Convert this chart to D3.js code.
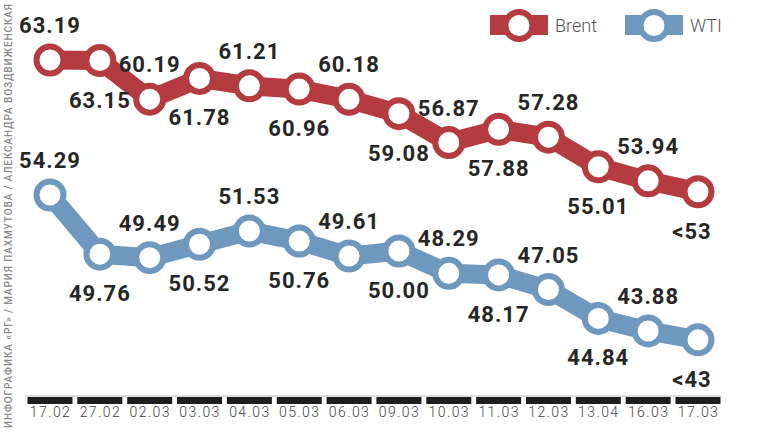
<!DOCTYPE html>
<html>
<head>
<meta charset="utf-8">
<script src="https://cdn.jsdelivr.net/npm/d3@7"></script>
<style>
  html, body { margin: 0; padding: 0; background: #fff; }
  svg { display: block; }
</style>
</head>
<body>
<svg id="chart" width="758" height="437"></svg>
<script>
// ---- data ----
const dates = ["17.02","27.02","02.03","03.03","04.03","05.03","06.03","09.03","10.03","11.03","12.03","13.04","16.03","17.03"];
const brentValues = [63.19, 63.15, 60.19, 61.78, 61.21, 60.96, 60.18, 59.08, 56.87, 57.88, 57.28, 55.01, 53.94, 53.1];
const brentLabels = ["63.19","63.15","60.19","61.78","61.21","60.96","60.18","59.08","56.87","57.88","57.28","55.01","53.94","<53"];
const wtiValues = [54.29, 49.76, 49.49, 50.52, 51.53, 50.76, 49.61, 50.00, 48.29, 48.17, 47.05, 44.84, 43.88, 43.2];
const wtiLabels = ["54.29","49.76","49.49","50.52","51.53","50.76","49.61","50.00","48.29","48.17","47.05","44.84","43.88","<43"];
const seriesNames = ["Brent", "WTI"];
const credit = "ИНФОГРАФИКА «РГ» / МАРИЯ ПАХМУТОВА / АЛЕКСАНДРА ВОЗДВИЖЕНСКАЯ";

// ---- styles ----
const RED = "#b43c40";
const BLUE = "#6f98bf";
const pxPerUnit = 13.06;

const svg = d3.select("#chart");

const x = d3.scalePoint().domain(dates).range([50, 698]);
const yBrent = d3.scaleLinear().domain([63.19, 53]).range([60, 60 + 10.19 * pxPerUnit]);
const yWti = d3.scaleLinear().domain([54.29, 43]).range([195, 195 + 11.29 * pxPerUnit]);

// credit text (vertical)
svg.append("text")
  .attr("transform", "translate(11.5,428) rotate(-90)")
  .attr("font-family", "Roboto, 'DejaVu Sans', sans-serif")
  .attr("font-size", 10)
  .attr("font-weight", 500)
  .attr("textLength", 424)
  .attr("lengthAdjust", "spacing")
  .attr("fill", "#8a8a8a")
  .text(credit);

// axis: thin line + dashes
svg.append("line")
  .attr("x1", x(dates[0]) - 25).attr("x2", x(dates[dates.length-1]) + 24)
  .attr("y1", 396).attr("y2", 396)
  .attr("stroke", "#bbb").attr("stroke-width", 1);

svg.append("g").selectAll("rect")
  .data(dates).join("rect")
  .attr("x", d => x(d) - 22.5)
  .attr("y", 397)
  .attr("width", 45)
  .attr("height", 7)
  .attr("fill", "#1e1e1e");

const axis = svg.append("g")
  .attr("transform", "translate(0,404)")
  .call(d3.axisBottom(x).tickSize(0).tickPadding(3));
axis.select(".domain").remove();
axis.selectAll("text")
  .attr("font-family", "Roboto, 'DejaVu Sans', sans-serif")
  .attr("font-size", 14)
  .attr("font-weight", 300)
  .attr("letter-spacing", 1.4)
  .attr("fill", "#444");

function drawSeries(values, labels, y, color) {
  const pts = values.map((v, i) => ({ d: dates[i], v, label: labels[i], i }));
  const line = d3.line().x(p => x(p.d)).y(p => y(p.v));
  const g = svg.append("g");
  g.append("path")
    .datum(pts)
    .attr("d", line)
    .attr("fill", "none")
    .attr("stroke", color)
    .attr("stroke-width", 19)
    .attr("stroke-linejoin", "round");
  g.selectAll("circle")
    .data(pts).join("circle")
    .attr("cx", p => x(p.d))
    .attr("cy", p => y(p.v))
    .attr("r", 13.5)
    .attr("fill", "#fff")
    .attr("stroke", color)
    .attr("stroke-width", 6);
  g.selectAll("text.val")
    .data(pts).join("text")
    .attr("class", "val")
    .attr("x", p => x(p.d) - (p.label.startsWith("<") ? 6 : 0))
    .attr("y", p => y(p.v) + (p.i % 2 === 0 ? -27 : 47))
    .attr("text-anchor", "middle")
    .attr("font-family", "Roboto, 'DejaVu Sans', sans-serif")
    .attr("font-size", 22)
    .attr("font-weight", 700)
    .attr("letter-spacing", 1)
    .attr("fill", "#262626")
    .text(p => p.label);
}

drawSeries(brentValues, brentLabels, yBrent, RED);
drawSeries(wtiValues, wtiLabels, yWti, BLUE);

// legend
const legend = [
  { name: seriesNames[0], color: RED, x: 490 },
  { name: seriesNames[1], color: BLUE, x: 625 }
];
const lg = svg.append("g").selectAll("g").data(legend).join("g")
  .attr("transform", d => `translate(${d.x},0)`);
lg.append("rect").attr("x", 0).attr("y", 15).attr("width", 58).attr("height", 20).attr("fill", d => d.color);
lg.append("circle").attr("cx", 29).attr("cy", 25.5).attr("r", 13.5)
  .attr("fill", "#fff").attr("stroke", d => d.color).attr("stroke-width", 6);
lg.append("text").attr("x", 65).attr("y", 32)
  .attr("font-family", "Roboto, 'DejaVu Sans', sans-serif")
  .attr("font-size", 18).attr("font-weight", 300)
  .attr("fill", "#555")
  .text(d => d.name);
</script>
</body>
</html>
